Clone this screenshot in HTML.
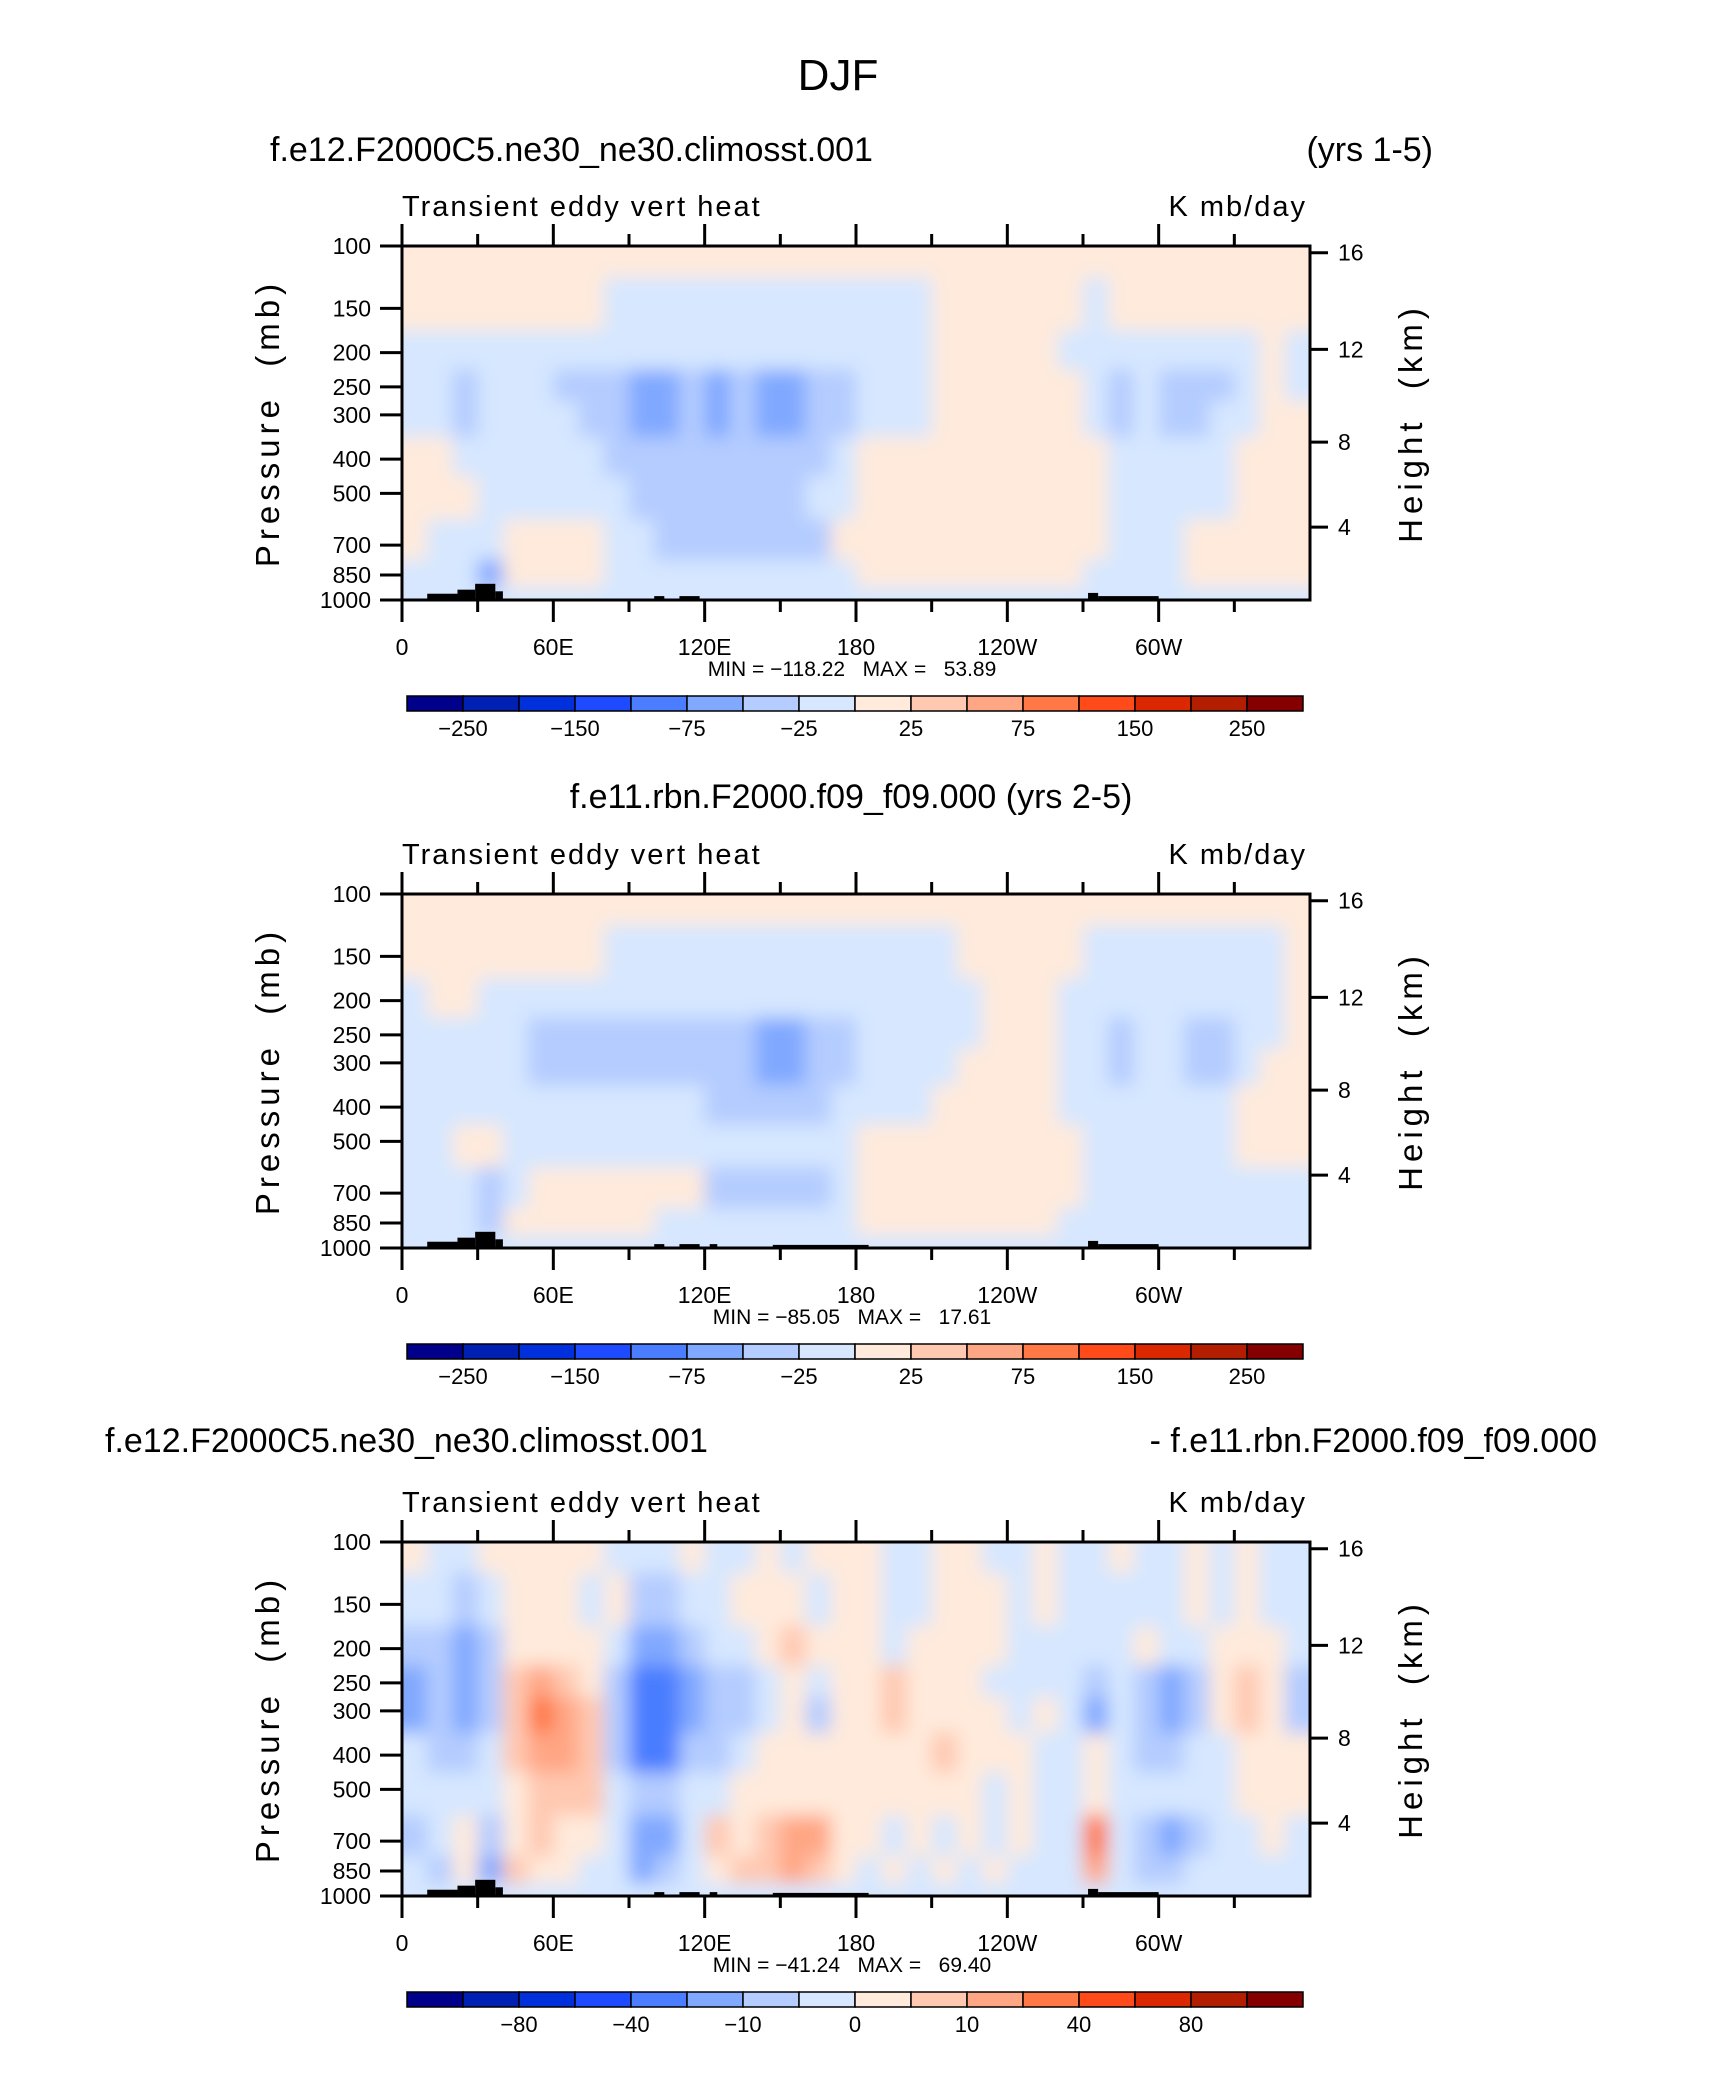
<!DOCTYPE html>
<html><head><meta charset="utf-8">
<style>
html,body{margin:0;padding:0;background:#fff;}
svg{display:block;font-family:"Liberation Sans",sans-serif;}
text{white-space:pre;}
</style></head>
<body>
<svg id="fig" width="1710" height="2074" viewBox="0 0 1710 2074" xmlns="http://www.w3.org/2000/svg">
<defs>
<filter id="soft" x="-5%" y="-5%" width="110%" height="110%"><feGaussianBlur stdDeviation="9"/></filter>
</defs>
<text x="838" y="90" font-size="44" text-anchor="middle" font-weight="300">DJF</text>
</svg>
<script>
// ---------- data ----------
const pressureLevels = [100,150,200,250,300,400,500,700,850,1000];
const lonCenters = [5,15,25,35,45,55,65,75,85,95,105,115,125,135,145,155,165,175,185,195,205,215,225,235,245,255,265,275,285,295,305,315,325,335,345,355];
const pTickLabels = [100,150,200,250,300,400,500,700,850,1000];
const lonTickVals = [0,60,120,180,240,300];
const lonTickLabels = ["0","60E","120E","180","120W","60W"];
const heightTickVals = [16,12,8,4];
const heightTickFrac = [0.019,0.292,0.554,0.794];
const levelsAbs = [-250,-200,-150,-100,-75,-50,-25,0,25,50,75,100,150,200,250];
const levelsDiff = [-100,-80,-60,-40,-20,-10,-5,0,5,10,20,40,60,80,100];
const cbLabelsAbs = ["-250","-150","-75","-25","25","75","150","250"];
const cbLabelsDiff = ["-80","-40","-10","0","10","40","80"];
const colors = ["#00008a","#0020b4","#0030dc","#1e4bff","#4a7dff","#80a8ff","#b4ccff","#d6e7ff","#ffeadb","#ffc8b0","#ffa684","#ff7846","#ff4b19","#dc2800","#b41e00","#840000"];

const field1 = [
[10,10,10,10,10,10,10,10,10,10,10,10,10,10,10,10,10,10,10,10,10,10,10,10,10,10,10,10,10,10,10,10,10,10,10,10],
[10,10,10,10,10,10,10,10,-10,-10,-10,-10,-10,-10,-10,-10,-10,-10,-10,-10,-10,10,10,10,10,10,10,-10,10,10,10,10,10,10,10,10],
[-10,-10,-10,-10,-10,-10,-10,-10,-10,-10,-10,-10,-10,-10,-10,-10,-10,-10,-10,-10,-10,10,10,10,10,10,-10,-10,-10,-10,-10,-10,-10,-10,10,-10],
[-10,-10,-35,-10,-10,-10,-35,-35,-35,-60,-60,-35,-60,-35,-60,-60,-35,-35,-10,-10,-10,10,10,10,10,10,10,-10,-35,-10,-35,-35,-35,-10,10,-10],
[-10,-10,-35,-10,-10,-10,-10,-35,-35,-60,-60,-35,-60,-35,-60,-60,-35,-35,-10,-10,-10,10,10,10,10,10,10,-10,-35,-10,-35,-35,-10,-10,10,10],
[10,10,-10,-10,-10,-10,-10,-10,-35,-35,-35,-35,-35,-35,-35,-35,-35,-10,10,10,10,10,10,10,10,10,10,10,-10,-10,-10,-10,-10,10,10,10],
[10,10,10,-10,-10,-10,-10,-10,-10,-35,-35,-35,-35,-35,-35,-35,-10,-10,10,10,10,10,10,10,10,10,10,10,-10,-10,-10,-10,-10,10,10,10],
[10,-10,-10,-10,10,10,10,10,-10,-10,-35,-35,-35,-35,-35,-35,-35,10,10,10,10,10,10,10,10,10,10,10,-10,-10,-10,10,10,10,10,10],
[-10,-10,-10,-60,10,10,10,10,-10,-10,-10,-10,-10,-10,-10,-10,-10,-10,10,10,10,10,10,10,10,10,10,-10,-10,-10,-10,10,10,10,10,10],
[-10,-10,-10,-10,-10,-10,-10,-10,-10,-10,-10,-10,-10,-10,-10,-10,-10,-10,-10,-10,-10,-10,-10,-10,-10,-10,-10,-10,-10,-10,-10,-10,-10,-10,-10,-10]
];
const field2 = [
[10,10,10,10,10,10,10,10,10,10,10,10,10,10,10,10,10,10,10,10,10,10,10,10,10,10,10,10,10,10,10,10,10,10,10,10],
[10,10,10,10,10,10,10,10,-10,-10,-10,-10,-10,-10,-10,-10,-10,-10,-10,-10,-10,-10,10,10,10,10,10,-10,-10,-10,-10,-10,-10,-10,-10,10],
[-10,10,10,-10,-10,-10,-10,-10,-10,-10,-10,-10,-10,-10,-10,-10,-10,-10,-10,-10,-10,-10,-10,10,10,10,-10,-10,-10,-10,-10,-10,-10,-10,-10,10],
[-10,-10,-10,-10,-10,-35,-35,-35,-35,-35,-35,-35,-35,-35,-60,-60,-35,-35,-10,-10,-10,-10,-10,10,10,10,-10,-10,-35,-10,-10,-35,-35,-10,-10,10],
[-10,-10,-10,-10,-10,-35,-35,-35,-35,-35,-35,-35,-35,-35,-60,-60,-35,-35,-10,-10,-10,-10,10,10,10,10,-10,-10,-35,-10,-10,-35,-35,-10,10,10],
[-10,-10,-10,-10,-10,-10,-10,-10,-10,-10,-10,-10,-35,-35,-35,-35,-35,-10,-10,-10,-10,10,10,10,10,10,-10,-10,-10,-10,-10,-10,-10,10,10,10],
[-10,-10,10,10,-10,-10,-10,-10,-10,-10,-10,-10,-10,-10,-10,-10,-10,-10,10,10,10,10,10,10,10,10,10,-10,-10,-10,-10,-10,-10,10,10,10],
[-10,-10,-10,-35,-10,10,10,10,10,10,10,10,-35,-35,-35,-35,-35,-10,10,10,10,10,10,10,10,10,10,-10,-10,-10,-10,-10,-10,-10,-10,-10],
[-10,-10,-10,-35,10,10,10,10,10,10,-10,-10,-10,-10,-10,-10,-10,-10,10,10,10,10,10,10,10,10,-10,-10,-10,-10,-10,-10,-10,-10,-10,-10],
[-10,-10,-10,-10,-10,-10,-10,-10,-10,-10,-10,-10,-10,-10,-10,-10,-10,-10,-10,-10,-10,-10,-10,-10,-10,-10,-10,-10,-10,-10,-10,-10,-10,-10,-10,-10]
];
const field3 = [
[3,-3,-3,3,3,3,3,3,-3,-3,-3,3,-3,-3,3,-3,3,3,3,-3,-3,3,3,-3,-3,3,-3,-3,3,-3,-3,3,-3,3,-3,-3],
[-3,-3,-7,-3,3,3,3,-3,3,-7,-7,-3,-3,3,3,3,-3,3,3,-3,-3,3,3,3,-3,3,-3,-3,-3,-3,-3,3,-3,3,-3,-3],
[-7,-7,-15,-7,3,3,3,3,-3,-15,-15,-7,-3,-3,3,7,3,3,3,-3,3,3,3,3,-3,-3,-3,-3,-3,3,-3,-3,3,3,3,-3],
[-15,-7,-15,-7,7,15,7,3,-7,-30,-30,-15,-7,-7,-3,3,-3,3,3,7,3,3,3,-3,-3,-3,-3,-7,-3,-7,-15,-7,3,7,3,-7],
[-15,-7,-15,-7,7,30,15,7,-7,-30,-40,-15,-7,-7,-3,3,-7,3,3,7,3,3,3,3,-3,3,-3,-15,-3,-7,-15,-7,3,7,3,-7],
[-3,-7,-7,-3,7,15,15,7,-7,-30,-30,-7,-7,-3,3,3,3,3,3,3,3,7,3,3,3,-3,-3,3,-3,-7,-7,-3,-3,3,3,3],
[-3,-3,-3,-3,3,7,7,7,-3,-7,-7,-3,-3,3,3,3,3,3,3,3,3,3,3,-3,3,-3,-3,3,-3,-3,-3,-3,-3,3,3,3],
[-7,-3,3,-7,3,7,3,3,-3,-15,-15,-3,7,3,7,15,15,3,3,-3,3,-3,3,-3,3,-3,-3,30,-3,-7,-15,-7,-3,-3,3,-3],
[-3,-7,3,-15,7,3,3,-3,-3,-15,-7,-3,3,7,7,15,7,3,-3,3,-3,3,-3,3,-3,-3,-3,15,-3,-7,-7,-3,-3,-3,-3,-3],
[-3,-3,-3,-3,-3,-3,-3,-3,-3,-3,-3,-3,-3,-3,-3,-3,-3,-3,-3,-3,-3,-3,-3,-3,-3,-3,-3,-3,-3,-3,-3,-3,-3,-3,-3,-3]
];
// topography: [lon start, lon end, top pressure]
const topo1 = [[10,22,960],[22,29,935],[29,37,900],[37,40,945],[100,104,975],[110,118,975],[272,276,955],[276,300,975]];
const topo2 = [[10,22,960],[22,29,935],[29,37,900],[37,40,945],[100,104,975],[110,118,975],[122,125,975],[147,185,980],[272,276,955],[276,300,975]];

// ---------- drawing ----------
const NS="http://www.w3.org/2000/svg";
const svg=document.getElementById('fig');
const PL=402, PW=908, PH=354;
function mk(tag,attrs,parent){const e=document.createElementNS(NS,tag);for(const k in attrs)e.setAttribute(k,attrs[k]);(parent||svg).appendChild(e);return e;}
function xOf(lon){return PL+lon/360*PW;}
function yOf(p,top){return top+PH*Math.log10(p/100);}
function colorFor(v,lev){let i=0;while(i<lev.length&&v>=lev[i])i++;return colors[i];}

function panel(idx,top,field,levels,topo,minmax,cbLabels,titles){
  const g=mk('g',{});
  
  
  const clipId='clip'+idx;
  const cp=mk('clipPath',{id:clipId},g);
  mk('rect',{x:PL,y:top,width:PW,height:PH},cp);
  const fg=mk('g',{'clip-path':'url(#'+clipId+')'},g);
  const inner=mk('g',{filter:'url(#soft)'},fg);
  mk('rect',{x:PL-30,y:top-30,width:PW+60,height:PH+60,fill:colors[8]},inner);
  for(let r=0;r<pressureLevels.length;r++){
    const p=pressureLevels[r];
    const pUp=r===0?70:Math.sqrt(p*pressureLevels[r-1]);
    const pDn=r===pressureLevels.length-1?1300:Math.sqrt(p*pressureLevels[r+1]);
    const y0=yOf(pUp,top), y1=yOf(pDn,top);
    for(let c=0;c<lonCenters.length;c++){
      const lc=lonCenters[c];
      const x0=c===0?PL-30:xOf(lc-5), x1=c===lonCenters.length-1?PL+PW+30:xOf(lc+5);
      const cell=mk('rect',{x:x0,y:y0,width:x1-x0+0.5,height:y1-y0+0.5,fill:colorFor(field[r][c],levels)},inner);
      
      
    }
  }
  topo.forEach(t=>{
    const b=mk('rect',{x:xOf(t[0]),y:yOf(t[2],top),width:xOf(t[1])-xOf(t[0]),height:top+PH-yOf(t[2],top),fill:'#000'},fg);
    
    
  });
  const fr=mk('rect',{x:PL,y:top,width:PW,height:PH,fill:'none',stroke:'#000','stroke-width':3},g);
  
  
  for(let lon=0;lon<360;lon+=30){
    const x=xOf(lon), major=lon%60===0, L=major?22:12;
    mk('line',{x1:x,y1:top,x2:x,y2:top-L,stroke:'#000','stroke-width':3},g);
    mk('line',{x1:x,y1:top+PH,x2:x,y2:top+PH+L,stroke:'#000','stroke-width':3},g);
  }
  lonTickVals.forEach((v,i)=>{
    const t=mk('text',{x:xOf(v),y:top+PH+55,'font-size':23,'text-anchor':'middle'},g);
    t.textContent=lonTickLabels[i];
    
    
  });
  pTickLabels.forEach(p=>{
    const y=yOf(p,top);
    mk('line',{x1:PL,y1:y,x2:PL-22,y2:y,stroke:'#000','stroke-width':3},g);
    const t=mk('text',{x:PL-31,y:y+8,'font-size':23,'text-anchor':'end'},g);
    t.textContent=p;
    
    
  });
  heightTickVals.forEach((h,i)=>{
    const y=top+PH*heightTickFrac[i];
    mk('line',{x1:PL+PW,y1:y,x2:PL+PW+18,y2:y,stroke:'#000','stroke-width':3},g);
    const t=mk('text',{x:PL+PW+28,y:y+8,'font-size':23},g);
    t.textContent=h;
    
    
  });
  const yt=mk('text',{x:0,y:0,'font-size':33,'text-anchor':'middle','letter-spacing':5,transform:'translate(279,'+(top+PH/2)+') rotate(-90)'},g);
  yt.textContent='Pressure  (mb)';
  
  
  const ht=mk('text',{x:0,y:0,'font-size':33,'text-anchor':'middle','letter-spacing':5,transform:'translate(1422,'+(top+PH/2)+') rotate(-90)'},g);
  ht.textContent='Height  (km)';
  
  
  const lt=mk('text',{x:PL,y:top-30,'font-size':29,'letter-spacing':2},g);
  lt.textContent='Transient eddy vert heat';
  
  
  const ut=mk('text',{x:PL+PW-3,y:top-30,'font-size':29,'text-anchor':'end','letter-spacing':2},g);
  ut.textContent='K mb/day';
  
  
  const mm=mk('text',{x:852,y:top+PH+76,'font-size':21,'text-anchor':'middle'},g);
  mm.textContent=minmax;
  
  
  titles.forEach(tt=>{
    const t=mk('text',{x:tt[0],y:top+tt[1],'font-size':34,'text-anchor':tt[2]},g);
    t.textContent=tt[3];
    
    
  });
  const cbL=407, cbW=56, cbT=top+450, cbH=15;
  for(let i=0;i<16;i++){
    const b=mk('rect',{x:cbL+i*cbW,y:cbT,width:cbW,height:cbH,fill:colors[i],stroke:'#000','stroke-width':1.5},g);
    
    
  }
  const start=cbLabels.length===8?1:2;
  cbLabels.forEach((lab,i)=>{
    const t=mk('text',{x:cbL+(start+i*2)*cbW,y:cbT+40,'font-size':22,'text-anchor':'middle'},g);
    t.textContent=lab.replace('-','\u2212');
    
    
  });
}
panel(1,246,field1,levelsAbs,topo1,'MIN = \u2212118.22   MAX =   53.89',cbLabelsAbs,
  [[270,-85,'start','f.e12.F2000C5.ne30_ne30.climosst.001','case-title'],[1433,-85,'end','(yrs 1-5)','years-label']]);
panel(2,894,field2,levelsAbs,topo2,'MIN = \u221285.05   MAX =   17.61',cbLabelsAbs,
  [[851,-86,'middle','f.e11.rbn.F2000.f09_f09.000 (yrs 2-5)','case-title']]);
panel(3,1542,field3,levelsDiff,topo2,'MIN = \u221241.24   MAX =   69.40',cbLabelsDiff,
  [[105,-90,'start','f.e12.F2000C5.ne30_ne30.climosst.001','case-title'],[1597,-90,'end','- f.e11.rbn.F2000.f09_f09.000','diff-title']]);
</script>
</body></html>
